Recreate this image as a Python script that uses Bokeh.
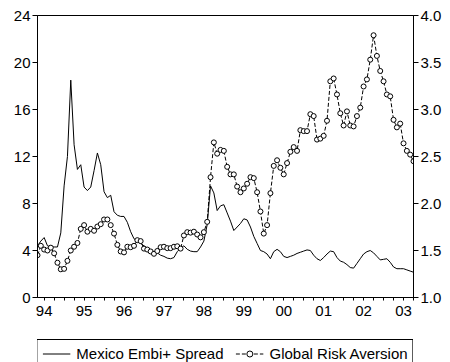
from bokeh.plotting import figure
from bokeh.layouts import column
from bokeh.models import (Range1d, LinearAxis, FixedTicker, Legend, LegendItem,
                          PrintfTickFormatter)
from bokeh.embed import file_html
from bokeh.resources import INLINE

# Monthly observations, starting May 1994
start_year = 1994
start_month = 5

mexico_embi = [
    4.4, 4.8, 5.1, 4.4, 4.3, 4.3, 4.3, 5.5, 9.5, 12.0,
    18.5, 13.0, 10.9, 11.3, 9.4, 9.1, 9.4, 10.8, 12.3, 11.3,
    9.0, 8.5, 8.7, 7.3, 7.0, 6.9, 6.9, 6.4, 5.6, 5.0,
    4.8, 4.6, 4.4, 4.2, 4.0, 3.85, 3.8, 3.6, 3.5, 3.35,
    3.3, 3.4, 3.9, 4.2, 4.4, 4.1, 3.95, 3.9, 3.9, 4.3,
    4.8, 6.2, 9.5, 8.9, 7.4, 7.8, 7.9, 7.2, 6.5, 5.7,
    6.0, 6.3, 6.7, 6.6, 6.0, 5.2, 4.6, 4.0, 3.9, 3.7,
    3.3, 3.9, 4.1, 3.9, 3.5, 3.4, 3.5, 3.6, 3.75, 3.85,
    3.95, 4.05, 4.0, 3.6, 3.3, 3.15, 3.4, 3.7, 3.95, 3.9,
    3.4, 3.1, 3.0, 2.8, 2.55, 2.5, 2.9, 3.3, 3.7, 3.9,
    4.0, 3.8, 3.5, 3.2, 3.25, 3.3, 3.0, 2.6, 2.45, 2.45,
    2.45, 2.35, 2.25, 2.15,
]

global_risk_aversion = [
    1.45, 1.55, 1.51, 1.50, 1.53, 1.47, 1.37, 1.30, 1.305, 1.39,
    1.50, 1.54, 1.58, 1.73, 1.77, 1.70, 1.73, 1.71, 1.755, 1.78,
    1.83, 1.83, 1.77, 1.68, 1.56, 1.49, 1.48, 1.54, 1.535, 1.55,
    1.61, 1.60, 1.52, 1.51, 1.49, 1.465, 1.495, 1.535, 1.54, 1.525,
    1.525, 1.54, 1.545, 1.52, 1.66, 1.695, 1.69, 1.70, 1.67, 1.64,
    1.695, 1.805, 2.28, 2.65, 2.53, 2.57, 2.56, 2.39, 2.31, 2.31,
    2.18, 2.12, 2.16, 2.21, 2.28, 2.27, 2.12, 1.915, 1.68, 1.77,
    2.11, 2.40, 2.46, 2.38, 2.31, 2.43, 2.55, 2.60, 2.56, 2.78,
    2.77, 2.77, 2.95, 2.93, 2.68, 2.69, 2.72, 2.88, 3.30, 3.33,
    3.16, 2.96, 2.83, 2.98, 2.83, 2.82, 2.93, 3.02, 3.245, 3.32,
    3.53, 3.79, 3.57, 3.41, 3.30, 3.16, 3.14, 2.89, 2.81, 2.85,
    2.64, 2.56, 2.52, 2.45,
]

year_labels = ["94", "95", "96", "97", "98", "99", "00", "01", "02", "03"]
left_ticks = [0, 4, 8, 12, 16, 20, 24]
right_ticks = [1.0, 1.5, 2.0, 2.5, 3.0, 3.5, 4.0]
series_names = ["Mexico Embi+ Spread", "Global Risk Aversion"]

n = len(mexico_embi)
x = [start_year + (start_month - 1 + i) / 12.0 for i in range(n)]

FONT = "Liberation Sans"

# ---------------- main chart ----------------
p = figure(width=450, height=338, output_backend="svg", toolbar_location=None,
           x_range=Range1d(x[0], x[-1]), y_range=Range1d(0, 24),
           min_border_left=37, min_border_right=37, min_border_top=15,
           min_border_bottom=41)
p.extra_y_ranges = {"gra": Range1d(1, 4)}
p.grid.visible = False
p.outline_line_color = "black"
p.outline_line_alpha = 1
p.outline_line_width = 1
p.background_fill_color = "white"
p.border_fill_color = "white"

years = [start_year + k for k in range(len(year_labels))]
mids = [y + 0.5 for y in years]
quarters = [y + q for y in years for q in (0.0, 0.25, 0.75) if x[0] <= y + q <= x[-1]]
xa = p.xaxis[0]
xa.ticker = FixedTicker(ticks=mids, minor_ticks=quarters)
xa.major_label_overrides = {m: lab for m, lab in zip(mids, year_labels)}
xa.major_tick_out = 3
xa.major_tick_in = 0
xa.minor_tick_out = 3
xa.minor_tick_in = 0
xa.major_label_text_font = FONT
xa.major_label_text_font_size = "15px"
xa.major_label_text_color = "black"
xa.major_label_standoff = 5
xa.axis_line_color = "black"
xa.major_tick_line_color = "black"
xa.minor_tick_line_color = "black"

ya = p.yaxis[0]
ya.ticker = FixedTicker(ticks=left_ticks)
ya.major_tick_out = 5
ya.major_tick_in = 0
ya.minor_tick_out = 0
ya.minor_tick_in = 0
ya.major_label_text_font = FONT
ya.major_label_text_font_size = "15px"
ya.major_label_text_color = "black"
ya.major_label_standoff = 2
ya.axis_line_color = "black"

yr = LinearAxis(y_range_name="gra", ticker=FixedTicker(ticks=right_ticks),
                formatter=PrintfTickFormatter(format="%.1f"),
                major_tick_out=5, major_tick_in=0, minor_tick_out=0, minor_tick_in=0,
                major_label_text_font=FONT, major_label_text_font_size="15px",
                major_label_text_color="black", major_label_standoff=2,
                axis_line_color="black")
p.add_layout(yr, "right")

p.line(x, mexico_embi, line_color="black", line_width=1)
p.line(x, global_risk_aversion, y_range_name="gra", line_color="black",
       line_width=1, line_dash="4 2")
p.scatter(x, global_risk_aversion, y_range_name="gra", marker="circle",
          size=5, fill_color="white", line_color="black", line_width=1)

# ---------------- legend strip ----------------
# same series drawn with ranges that keep them out of view; only the legend shows
q = figure(width=450, height=24, output_backend="svg", toolbar_location=None,
           x_range=Range1d(x[0], x[-1]), y_range=Range1d(1000, 1001),
           x_axis_type=None, y_axis_type=None,
           min_border_left=0, min_border_right=0, min_border_top=0,
           min_border_bottom=0)
q.extra_y_ranges = {"gra": Range1d(1000, 1001)}
q.grid.visible = False
q.outline_line_color = None
q.background_fill_color = "white"
q.border_fill_color = "white"
l1 = q.line(x, mexico_embi, line_color="black", line_width=1)
l2 = q.line(x, global_risk_aversion, y_range_name="gra", line_color="black",
            line_width=1, line_dash="4 2")
l3 = q.scatter(x, global_risk_aversion, y_range_name="gra", marker="circle",
               size=5, fill_color="white", line_color="black", line_width=1)

legend = Legend(items=[LegendItem(label=series_names[0], renderers=[l1]),
                       LegendItem(label=series_names[1], renderers=[l2, l3])],
                orientation="horizontal", location="top_center",
                border_line_color="black", border_line_width=1, border_line_alpha=1,
                background_fill_color="white", background_fill_alpha=1,
                label_text_font=FONT, label_text_font_size="15px",
                label_text_color="black", label_height=16,
                glyph_width=28, glyph_height=15, label_standoff=6, spacing=12,
                padding=5, margin=1)
q.add_layout(legend)

layout = column(p, q, spacing=0)
open("out.html", "w").write(file_html(layout, INLINE))
